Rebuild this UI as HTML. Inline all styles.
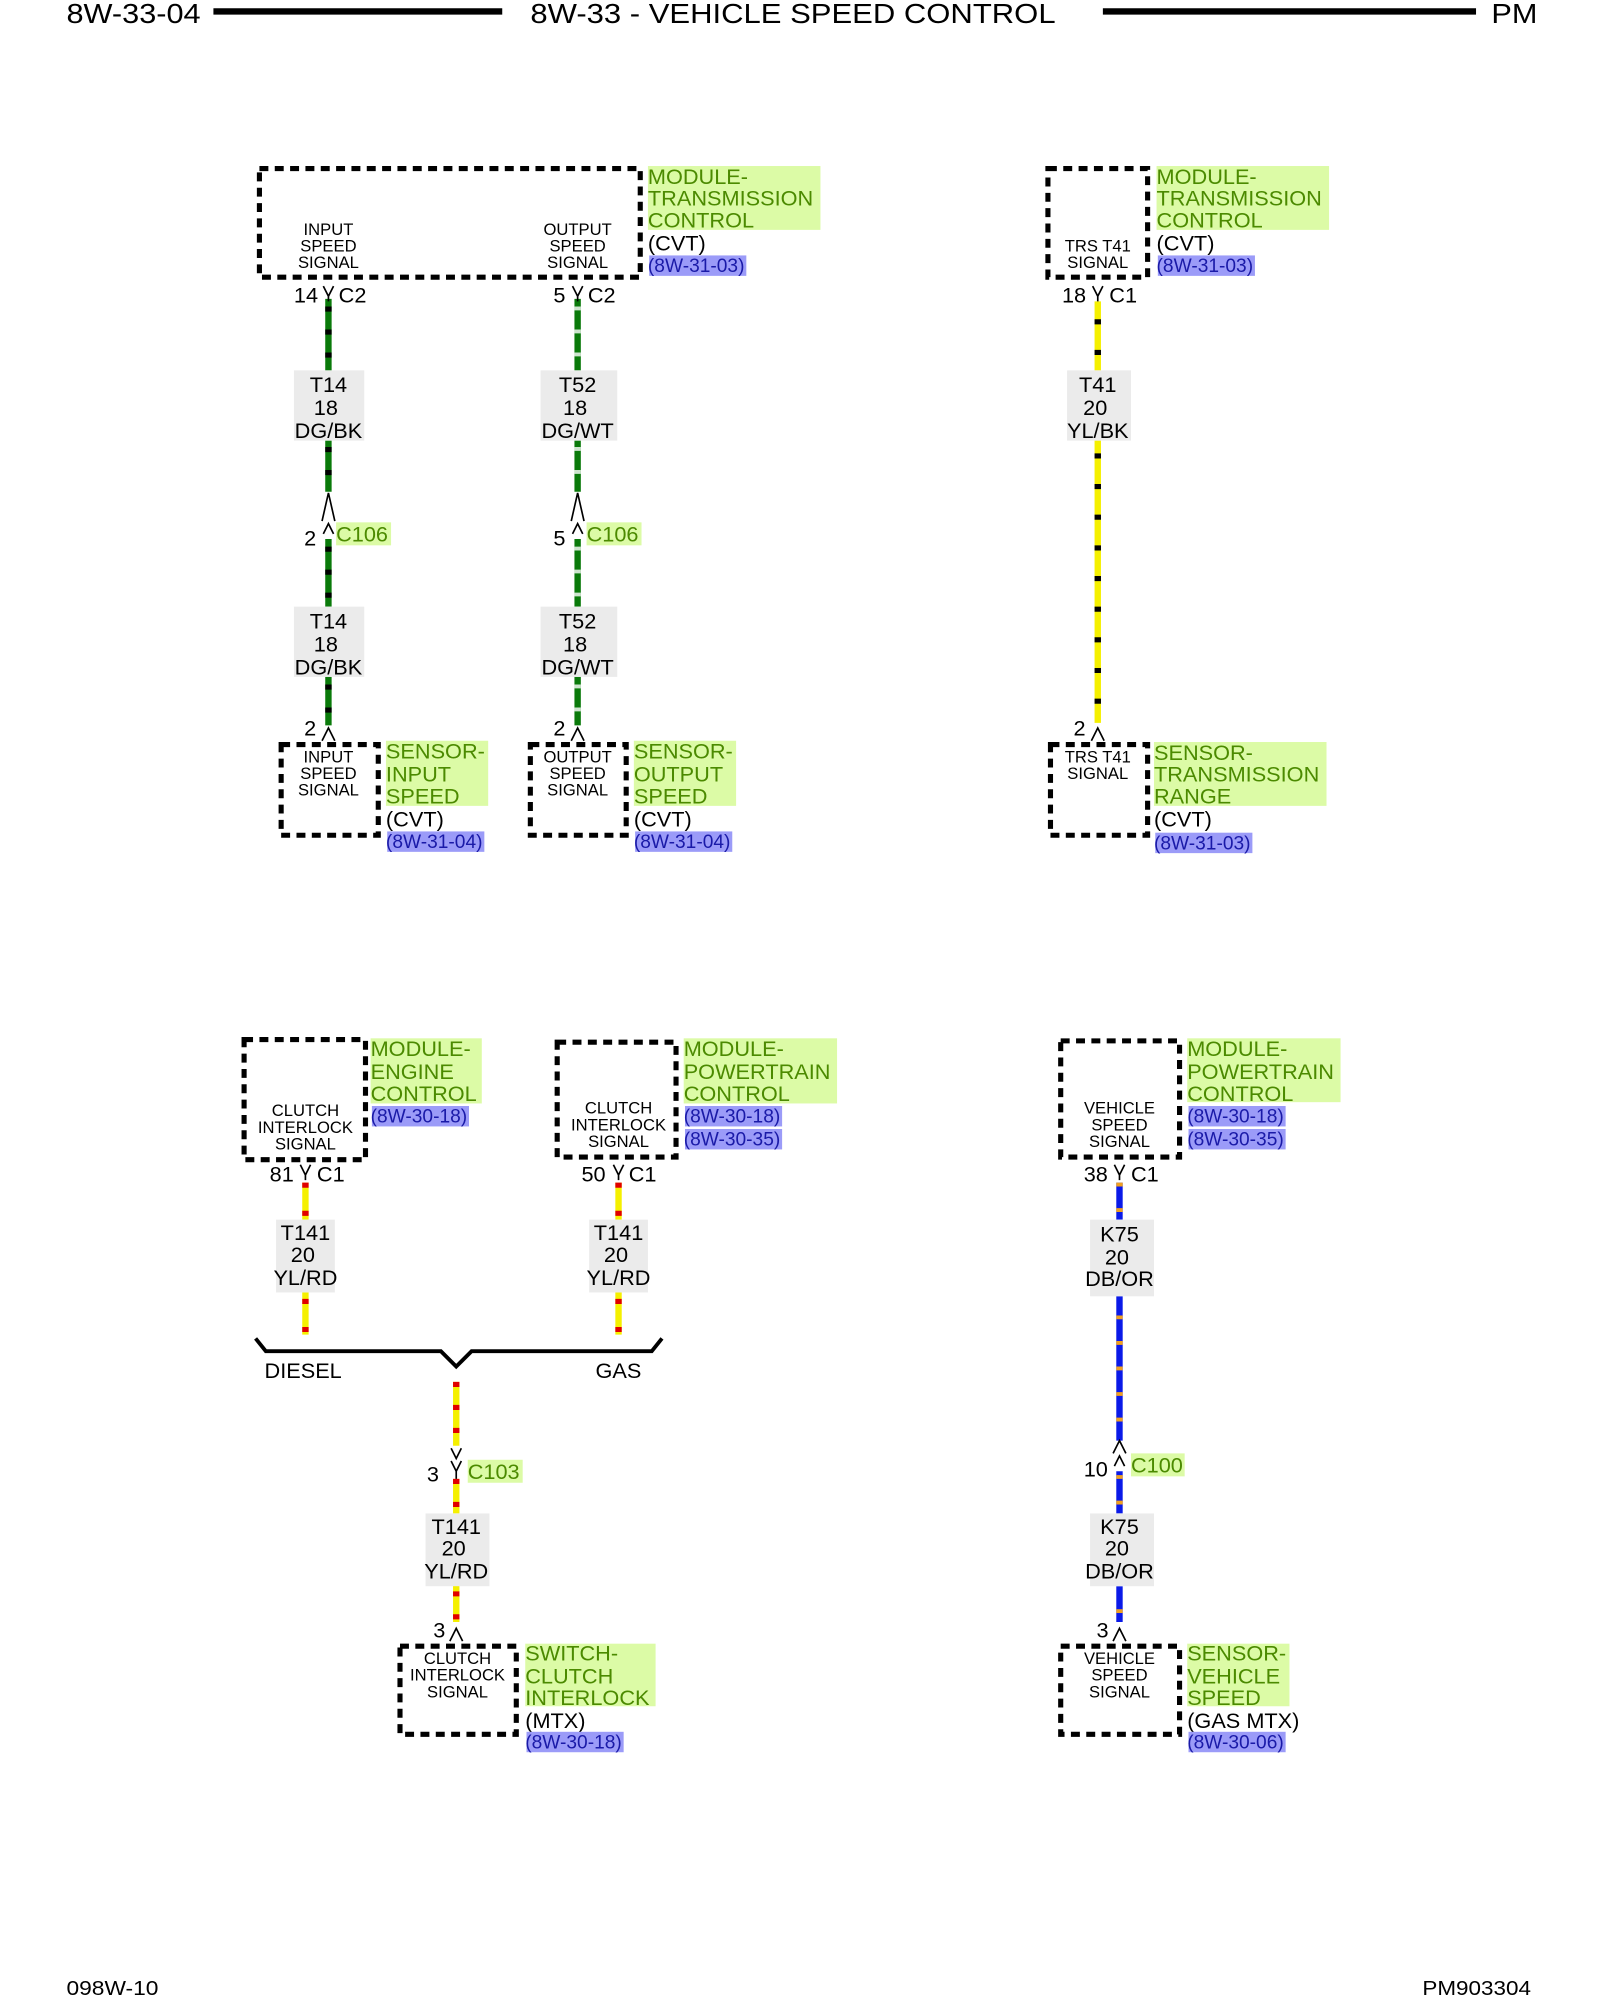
<!DOCTYPE html>
<html><head><meta charset="utf-8"><style>
html,body{margin:0;padding:0;background:#fff;}
svg{display:block}
text{font-family:"Liberation Sans",Arial,sans-serif;}
.n{font-family:"Liberation Sans Narrow","Liberation Sans",sans-serif;}
.box{fill:none;stroke:#000;stroke-width:4;stroke-dasharray:7 5;}
.sm{font-size:13px;text-anchor:middle;}
.g{fill:#4b8a00;font-size:17px;}
.gb{fill:#dcfba6;}
.rb{fill:#9b9bf8;}
.r{fill:#1a1aa8;font-size:15px;}
.k{fill:#000;font-size:17px;}
.wl{fill:#ebebeb;}
.wt{font-size:17px;text-anchor:middle;}
.cn{fill:none;stroke:#000;stroke-width:1.3;}
</style></head><body>
<svg width="1600" height="2000" viewBox="0 0 1252 1566" preserveAspectRatio="none" xmlns="http://www.w3.org/2000/svg">
<defs>
<g id="dummy"></g>
</defs>
<!-- header -->
<text x="52" y="18" class="n" font-size="22" textLength="105" lengthAdjust="spacingAndGlyphs">8W-33-04</text>
<line x1="167" y1="9" x2="393" y2="9" stroke="#000" stroke-width="5"/>
<text x="415" y="18" class="n" font-size="22" textLength="411" lengthAdjust="spacingAndGlyphs">8W-33 - VEHICLE SPEED CONTROL</text>
<line x1="863" y1="9" x2="1155" y2="9" stroke="#000" stroke-width="5"/>
<text x="1167" y="18" class="n" font-size="22" textLength="36" lengthAdjust="spacingAndGlyphs">PM</text>
<text x="52" y="1562" class="n" font-size="16" textLength="72" lengthAdjust="spacingAndGlyphs">098W-10</text>
<text x="1113" y="1562" class="n" font-size="16" textLength="85" lengthAdjust="spacingAndGlyphs">PM903304</text>

<!-- ===== TOP LEFT ===== -->
<rect class="box" x="203" y="132" width="298" height="85"/>
<text class="sm" x="257" y="184">INPUT</text><text class="sm" x="257" y="197">SPEED</text><text class="sm" x="257" y="210">SIGNAL</text>
<text class="sm" x="452" y="184">OUTPUT</text><text class="sm" x="452" y="197">SPEED</text><text class="sm" x="452" y="210">SIGNAL</text>
<rect class="gb" x="507" y="130" width="135" height="50"/>
<text class="g" x="507" y="144">MODULE-</text><text class="g" x="507" y="161">TRANSMISSION</text><text class="g" x="507" y="178">CONTROL</text>
<text class="k" x="507" y="196">(CVT)</text>
<rect class="rb" x="508" y="200" width="76" height="16"/><text class="r" x="507" y="213">(8W-31-03)</text>

<!-- wire T14 -->
<g stroke-width="5">
<line x1="257" y1="234" x2="257" y2="290" stroke="#0a7a0a"/>
<line x1="257" y1="345" x2="257" y2="385" stroke="#0a7a0a"/>
<line x1="257" y1="422" x2="257" y2="475" stroke="#0a7a0a"/>
<line x1="257" y1="530" x2="257" y2="568" stroke="#0a7a0a"/>
<line x1="257" y1="240" x2="257" y2="290" stroke="#000" stroke-dasharray="4 14"/>
<line x1="257" y1="350" x2="257" y2="385" stroke="#000" stroke-dasharray="4 14"/>
<line x1="257" y1="428" x2="257" y2="475" stroke="#000" stroke-dasharray="4 14"/>
<line x1="257" y1="536" x2="257" y2="568" stroke="#000" stroke-dasharray="4 14"/>
</g>
<text class="k" x="230" y="237">14</text><path class="cn" d="M253 224 L257 232 L261 224 M257 232 V236"/><text class="k" x="265" y="237">C2</text>
<rect class="wl" x="230" y="290" width="55" height="55"/>
<text class="wt" x="257" y="307">T14</text><text class="wt" x="255" y="325">18</text><text class="wt" x="257" y="343">DG/BK</text>
<path class="cn" d="M252 408 L257 386 L262 408 M253 418 L257 410 L261 418"/>
<text class="k" x="238" y="427">2</text>
<rect class="gb" x="263" y="409" width="43" height="18"/><text class="g" x="263" y="424">C106</text>
<rect class="wl" x="230" y="475" width="55" height="55"/>
<text class="wt" x="257" y="492">T14</text><text class="wt" x="255" y="510">18</text><text class="wt" x="257" y="528">DG/BK</text>
<text class="k" x="238" y="576">2</text><path class="cn" d="M252 580 L257 570 L262 580"/>
<rect class="box" x="220" y="583" width="76" height="71"/>
<text class="sm" x="257" y="597">INPUT</text><text class="sm" x="257" y="610">SPEED</text><text class="sm" x="257" y="623">SIGNAL</text>
<rect class="gb" x="302" y="580" width="80" height="51"/>
<text class="g" x="302" y="594">SENSOR-</text><text class="g" x="302" y="612">INPUT</text><text class="g" x="302" y="629">SPEED</text>
<text class="k" x="302" y="647">(CVT)</text>
<rect class="rb" x="303" y="651" width="76" height="16"/><text class="r" x="302" y="664">(8W-31-04)</text>

<!-- wire T52 -->
<g stroke-width="5">
<line x1="452" y1="234" x2="452" y2="290" stroke="#0a7a0a"/>
<line x1="452" y1="345" x2="452" y2="385" stroke="#0a7a0a"/>
<line x1="452" y1="422" x2="452" y2="475" stroke="#0a7a0a"/>
<line x1="452" y1="530" x2="452" y2="568" stroke="#0a7a0a"/>
<line x1="452" y1="240" x2="452" y2="290" stroke="#fff" stroke-dasharray="3 15" opacity="0.8"/>
<line x1="452" y1="350" x2="452" y2="385" stroke="#fff" stroke-dasharray="3 15" opacity="0.8"/>
<line x1="452" y1="428" x2="452" y2="475" stroke="#fff" stroke-dasharray="3 15" opacity="0.8"/>
<line x1="452" y1="536" x2="452" y2="568" stroke="#fff" stroke-dasharray="3 15" opacity="0.8"/>
</g>
<text class="k" x="433" y="237">5</text><path class="cn" d="M448 224 L452 232 L456 224 M452 232 V236"/><text class="k" x="460" y="237">C2</text>
<rect class="wl" x="423" y="290" width="60" height="55"/>
<text class="wt" x="452" y="307">T52</text><text class="wt" x="450" y="325">18</text><text class="wt" x="452" y="343">DG/WT</text>
<path class="cn" d="M447 408 L452 386 L457 408 M448 418 L452 410 L456 418"/>
<text class="k" x="433" y="427">5</text>
<rect class="gb" x="459" y="409" width="43" height="18"/><text class="g" x="459" y="424">C106</text>
<rect class="wl" x="423" y="475" width="60" height="55"/>
<text class="wt" x="452" y="492">T52</text><text class="wt" x="450" y="510">18</text><text class="wt" x="452" y="528">DG/WT</text>
<text class="k" x="433" y="576">2</text><path class="cn" d="M447 580 L452 570 L457 580"/>
<rect class="box" x="415" y="583" width="75" height="71"/>
<text class="sm" x="452" y="597">OUTPUT</text><text class="sm" x="452" y="610">SPEED</text><text class="sm" x="452" y="623">SIGNAL</text>
<rect class="gb" x="496" y="580" width="80" height="51"/>
<text class="g" x="496" y="594">SENSOR-</text><text class="g" x="496" y="612">OUTPUT</text><text class="g" x="496" y="629">SPEED</text>
<text class="k" x="496" y="647">(CVT)</text>
<rect class="rb" x="497" y="651" width="76" height="16"/><text class="r" x="496" y="664">(8W-31-04)</text>

<!-- ===== TOP RIGHT ===== -->
<rect class="box" x="820" y="132" width="78" height="85"/>
<text class="sm" x="859" y="197">TRS T41</text><text class="sm" x="859" y="210">SIGNAL</text>
<rect class="gb" x="905" y="130" width="135" height="50"/>
<text class="g" x="905" y="144">MODULE-</text><text class="g" x="905" y="161">TRANSMISSION</text><text class="g" x="905" y="178">CONTROL</text>
<text class="k" x="905" y="196">(CVT)</text>
<rect class="rb" x="906" y="200" width="76" height="16"/><text class="r" x="905" y="213">(8W-31-03)</text>
<g stroke-width="5">
<line x1="859" y1="236" x2="859" y2="290" stroke="#f5f000"/>
<line x1="859" y1="345" x2="859" y2="566" stroke="#f5f000"/>
<line x1="859" y1="250" x2="859" y2="290" stroke="#000" stroke-dasharray="4 20"/>
<line x1="859" y1="355" x2="859" y2="566" stroke="#000" stroke-dasharray="4 20"/>
</g>
<text class="k" x="831" y="237">18</text><path class="cn" d="M855 224 L859 232 L863 224 M859 232 V236"/><text class="k" x="868" y="237">C1</text>
<rect class="wl" x="835" y="290" width="50" height="55"/>
<text class="wt" x="859" y="307">T41</text><text class="wt" x="857" y="325">20</text><text class="wt" x="859" y="343">YL/BK</text>
<text class="k" x="840" y="576">2</text><path class="cn" d="M854 580 L859 570 L864 580"/>
<rect class="box" x="822" y="583" width="76" height="71"/>
<text class="sm" x="859" y="597">TRS T41</text><text class="sm" x="859" y="610">SIGNAL</text>
<rect class="gb" x="903" y="581" width="135" height="50"/>
<text class="g" x="903" y="595">SENSOR-</text><text class="g" x="903" y="612">TRANSMISSION</text><text class="g" x="903" y="629">RANGE</text>
<text class="k" x="903" y="647">(CVT)</text>
<rect class="rb" x="904" y="652" width="76" height="16"/><text class="r" x="903" y="665">(8W-31-03)</text>

<!-- ===== BOTTOM LEFT ===== -->
<rect class="box" x="191" y="814" width="95" height="94"/>
<text class="sm" x="239" y="874">CLUTCH</text><text class="sm" x="239" y="887">INTERLOCK</text><text class="sm" x="239" y="900">SIGNAL</text>
<rect class="gb" x="290" y="813" width="87" height="51"/>
<text class="g" x="290" y="827">MODULE-</text><text class="g" x="290" y="845">ENGINE</text><text class="g" x="290" y="862">CONTROL</text>
<rect class="rb" x="291" y="866" width="76" height="16"/><text class="r" x="290" y="879">(8W-30-18)</text>
<text class="k" x="211" y="925">81</text><path class="cn" d="M235 912 L239 920 L243 912 M239 920 V924"/><text class="k" x="248" y="925">C1</text>
<g stroke-width="5">
<line x1="239" y1="926" x2="239" y2="955" stroke="#f5f000"/>
<line x1="239" y1="1012" x2="239" y2="1045" stroke="#f5f000"/>
<line x1="239" y1="926" x2="239" y2="955" stroke="#e00000" stroke-dasharray="4 18"/>
<line x1="239" y1="1017" x2="239" y2="1045" stroke="#e00000" stroke-dasharray="4 18"/>
</g>
<rect class="wl" x="216" y="955" width="46" height="57"/>
<text class="wt" x="239" y="971">T141</text><text class="wt" x="237" y="988">20</text><text class="wt" x="239" y="1006">YL/RD</text>

<rect class="box" x="436" y="816" width="93" height="90"/>
<text class="sm" x="484" y="872">CLUTCH</text><text class="sm" x="484" y="885">INTERLOCK</text><text class="sm" x="484" y="898">SIGNAL</text>
<rect class="gb" x="535" y="813" width="120" height="51"/>
<text class="g" x="535" y="827">MODULE-</text><text class="g" x="535" y="845">POWERTRAIN</text><text class="g" x="535" y="862">CONTROL</text>
<rect class="rb" x="536" y="866" width="76" height="16"/><text class="r" x="535" y="879">(8W-30-18)</text>
<rect class="rb" x="536" y="884" width="76" height="16"/><text class="r" x="535" y="897">(8W-30-35)</text>
<text class="k" x="455" y="925">50</text><path class="cn" d="M480 912 L484 920 L488 912 M484 920 V924"/><text class="k" x="492" y="925">C1</text>
<g stroke-width="5">
<line x1="484" y1="926" x2="484" y2="955" stroke="#f5f000"/>
<line x1="484" y1="1012" x2="484" y2="1045" stroke="#f5f000"/>
<line x1="484" y1="926" x2="484" y2="955" stroke="#e00000" stroke-dasharray="4 18"/>
<line x1="484" y1="1017" x2="484" y2="1045" stroke="#e00000" stroke-dasharray="4 18"/>
</g>
<rect class="wl" x="461" y="955" width="46" height="57"/>
<text class="wt" x="484" y="971">T141</text><text class="wt" x="482" y="988">20</text><text class="wt" x="484" y="1006">YL/RD</text>

<path d="M200 1048 L208 1058 L345 1058 L357 1070 L369 1058 L510 1058 L518 1048" fill="none" stroke="#000" stroke-width="3"/>
<text class="k" x="207" y="1079">DIESEL</text><text class="k" x="466" y="1079">GAS</text>
<g stroke-width="5">
<line x1="357" y1="1082" x2="357" y2="1132" stroke="#f5f000"/>
<line x1="357" y1="1158" x2="357" y2="1185" stroke="#f5f000"/>
<line x1="357" y1="1240" x2="357" y2="1270" stroke="#f5f000"/>
<line x1="357" y1="1082" x2="357" y2="1132" stroke="#e00000" stroke-dasharray="4 14"/>
<line x1="357" y1="1158" x2="357" y2="1185" stroke="#e00000" stroke-dasharray="4 14"/>
<line x1="357" y1="1246" x2="357" y2="1270" stroke="#e00000" stroke-dasharray="4 14"/>
</g>
<path class="cn" d="M353 1134 L357 1142 L361 1134 M353 1144 L357 1152 L361 1144 M357 1152 V1158"/>
<text class="k" x="334" y="1160">3</text>
<rect class="gb" x="366" y="1143" width="43" height="18"/><text class="g" x="366" y="1158">C103</text>
<rect class="wl" x="333" y="1185" width="50" height="57"/>
<text class="wt" x="357" y="1201">T141</text><text class="wt" x="355" y="1218">20</text><text class="wt" x="357" y="1236">YL/RD</text>
<text class="k" x="339" y="1282">3</text><path class="cn" d="M352 1285 L357 1275 L362 1285"/>
<rect class="box" x="313" y="1289" width="91" height="69"/>
<text class="sm" x="358" y="1303">CLUTCH</text><text class="sm" x="358" y="1316">INTERLOCK</text><text class="sm" x="358" y="1329">SIGNAL</text>
<rect class="gb" x="411" y="1287" width="102" height="49"/>
<text class="g" x="411" y="1300">SWITCH-</text><text class="g" x="411" y="1318">CLUTCH</text><text class="g" x="411" y="1335">INTERLOCK</text>
<text class="k" x="411" y="1353">(MTX)</text>
<rect class="rb" x="412" y="1356" width="76" height="16"/><text class="r" x="411" y="1369">(8W-30-18)</text>

<!-- ===== BOTTOM RIGHT ===== -->
<rect class="box" x="830" y="815" width="93" height="91"/>
<text class="sm" x="876" y="872">VEHICLE</text><text class="sm" x="876" y="885">SPEED</text><text class="sm" x="876" y="898">SIGNAL</text>
<rect class="gb" x="929" y="813" width="120" height="50"/>
<text class="g" x="929" y="827">MODULE-</text><text class="g" x="929" y="845">POWERTRAIN</text><text class="g" x="929" y="862">CONTROL</text>
<rect class="rb" x="930" y="866" width="76" height="16"/><text class="r" x="929" y="879">(8W-30-18)</text>
<rect class="rb" x="930" y="884" width="76" height="16"/><text class="r" x="929" y="897">(8W-30-35)</text>
<text class="k" x="848" y="925">38</text><path class="cn" d="M872 912 L876 920 L880 912 M876 920 V924"/><text class="k" x="885" y="925">C1</text>
<g stroke-width="5">
<line x1="876" y1="926" x2="876" y2="955" stroke="#0a1ae8"/>
<line x1="876" y1="1015" x2="876" y2="1128" stroke="#0a1ae8"/>
<line x1="876" y1="1152" x2="876" y2="1185" stroke="#0a1ae8"/>
<line x1="876" y1="1242" x2="876" y2="1270" stroke="#0a1ae8"/>
<line x1="876" y1="926" x2="876" y2="955" stroke="#f0a020" stroke-dasharray="3 17"/>
<line x1="876" y1="1030" x2="876" y2="1128" stroke="#f0a020" stroke-dasharray="3 17"/>
<line x1="876" y1="1155" x2="876" y2="1185" stroke="#f0a020" stroke-dasharray="3 17"/>
<line x1="876" y1="1260" x2="876" y2="1270" stroke="#f0a020" stroke-dasharray="3 17"/>
</g>
<rect class="wl" x="853" y="955" width="50" height="60"/>
<text class="wt" x="876" y="972">K75</text><text class="wt" x="874" y="990">20</text><text class="wt" x="876" y="1007">DB/OR</text>
<path class="cn" d="M871 1138 L876 1128 L881 1138 M872 1148 L876 1140 L880 1148"/>
<text class="k" x="848" y="1156">10</text>
<rect class="gb" x="885" y="1138" width="42" height="18"/><text class="g" x="885" y="1153">C100</text>
<rect class="wl" x="853" y="1185" width="50" height="57"/>
<text class="wt" x="876" y="1201">K75</text><text class="wt" x="874" y="1218">20</text><text class="wt" x="876" y="1236">DB/OR</text>
<text class="k" x="858" y="1282">3</text><path class="cn" d="M871 1285 L876 1275 L881 1285"/>
<rect class="box" x="830" y="1289" width="93" height="69"/>
<text class="sm" x="876" y="1303">VEHICLE</text><text class="sm" x="876" y="1316">SPEED</text><text class="sm" x="876" y="1329">SIGNAL</text>
<rect class="gb" x="929" y="1287" width="80" height="49"/>
<text class="g" x="929" y="1300">SENSOR-</text><text class="g" x="929" y="1318">VEHICLE</text><text class="g" x="929" y="1335">SPEED</text>
<text class="k" x="929" y="1353">(GAS MTX)</text>
<rect class="rb" x="930" y="1356" width="76" height="16"/><text class="r" x="929" y="1369">(8W-30-06)</text>
</svg>
</body></html>
